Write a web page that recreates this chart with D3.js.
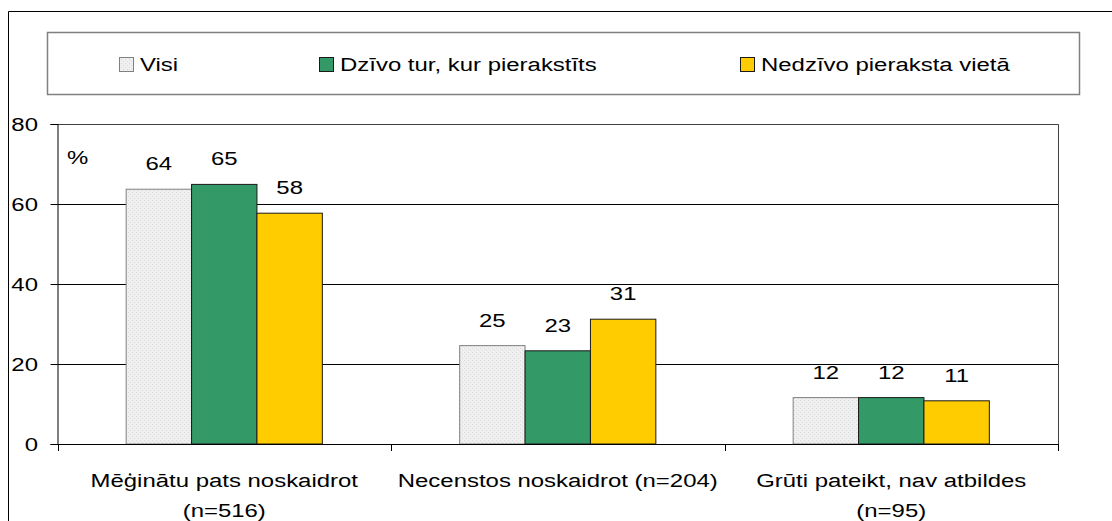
<!DOCTYPE html>
<html>
<head>
<meta charset="utf-8">
<script src="https://cdn.jsdelivr.net/npm/d3@7"></script>
<style>
  body { margin: 0; background: #fff; }
  text { font-family: "Liberation Sans", Arial, sans-serif; fill: #000; font-size: 19px; }
</style>
</head>
<body>
<div id="chart"></div>
<script>
// data
var categories = [["Mēģinātu pats noskaidrot", "(n=516)"], ["Necenstos noskaidrot (n=204)"], ["Grūti pateikt, nav atbildes", "(n=95)"]];
var seriesNames = ["Visi", "Dzīvo tur, kur pierakstīts", "Nedzīvo pieraksta vietā"];
var visi = [63.7, 24.6, 11.6];
var dzivo = [64.9, 23.3, 11.6];
var nedzivo = [57.7, 31.2, 10.8];
var yTicks = [0, 20, 40, 60, 80];

var colors = ["url(#dots)", "#339966", "#ffcc00"];
var strokes = ["#808080", "#1a1a1a", "#1a1a1a"];
var values = [visi, dzivo, nedzivo];

var svgWidth = 1112;
var svgHeight = 521;
// the original text is drawn wider than it is tall
var stretch = 1.26;

var svg = d3.select("#chart")
    .append("svg")
    .attr("width", svgWidth)
    .attr("height", svgHeight);

function wideText(sel, x, y) {
    return sel.attr("transform", function (d, i) {
        var xx = typeof x === "function" ? x(d, i) : x;
        var yy = typeof y === "function" ? y(d, i) : y;
        return "translate(" + xx + "," + yy + ") scale(" + stretch + ",1)";
    });
}

// fine texture for the light gray bars
var pat = svg.append("defs").append("pattern")
    .attr("id", "dots")
    .attr("width", 4).attr("height", 4)
    .attr("patternUnits", "userSpaceOnUse");
pat.append("rect").attr("width", 4).attr("height", 4).attr("fill", "#efefef");
pat.append("rect").attr("x", 0).attr("y", 0).attr("width", 1).attr("height", 1).attr("fill", "#dadada");
pat.append("rect").attr("x", 2).attr("y", 2).attr("width", 1).attr("height", 1).attr("fill", "#dadada");

// outer frame
svg.append("path")
    .attr("d", "M8.5," + svgHeight + "V11.5H" + svgWidth)
    .attr("fill", "none")
    .attr("stroke", "#000");

// scales
var plot = { left: 57.5, right: 1058, top: 124, bottom: 444 };

var x0 = d3.scaleBand()
    .domain(d3.range(categories.length))
    .range([plot.left, plot.right]);

var x1 = d3.scaleBand()
    .domain(d3.range(seriesNames.length))
    .range([0, x0.bandwidth()])
    .paddingOuter(1.05);

var y = d3.scaleLinear()
    .domain([0, 80])
    .range([plot.bottom, plot.top]);

// gridlines
svg.append("g").selectAll("line")
    .data(yTicks.filter(d => d > 0 && d < 80))
    .enter().append("line")
    .attr("x1", plot.left).attr("x2", plot.right)
    .attr("y1", d => Math.round(y(d)) + 0.5).attr("y2", d => Math.round(y(d)) + 0.5)
    .attr("stroke", "#000");

// plot area top/right border
svg.append("path")
    .attr("d", "M" + plot.left + "," + (plot.top + 0.5) + "H" + (plot.right + 0.5) + "V" + plot.bottom)
    .attr("fill", "none")
    .attr("stroke", "#404040");

// bars
values.forEach(function (vals, s) {
    svg.append("g").selectAll("rect")
        .data(vals)
        .enter().append("rect")
        .attr("x", (d, i) => x0(i) + x1(s))
        .attr("y", d => y(d))
        .attr("width", x1.bandwidth())
        .attr("height", d => y(0) - y(d))
        .attr("fill", colors[s])
        .attr("stroke", strokes[s])
        .attr("stroke-width", 1);

    var lbl = svg.append("g").selectAll("text")
        .data(vals)
        .enter().append("text")
        .attr("text-anchor", "middle")
        .text(d => Math.round(d));
    wideText(lbl, (d, i) => x0(i) + x1(s) + x1.bandwidth() / 2, d => y(d) - 19);
});

// y axis
var yAxis = d3.axisLeft(y).tickValues(yTicks).tickSize(7).tickFormat("");
var yg = svg.append("g")
    .attr("transform", "translate(" + plot.left + ",0)")
    .call(yAxis);
yg.select(".domain").attr("stroke", "#000");
yg.selectAll(".tick line").attr("stroke", "#000");

var yLabels = svg.append("g").selectAll("text")
    .data(yTicks)
    .enter().append("text")
    .attr("text-anchor", "end")
    .text(d => d);
wideText(yLabels, 38, d => y(d) + 7);

// x axis line and category ticks
svg.append("line")
    .attr("x1", plot.left).attr("x2", plot.right + 0.5)
    .attr("y1", plot.bottom + 0.5).attr("y2", plot.bottom + 0.5)
    .attr("stroke", "#000");
svg.append("g").selectAll("line")
    .data(d3.range(categories.length + 1))
    .enter().append("line")
    .attr("x1", d => Math.round(plot.left + d * x0.step()) + 0.5)
    .attr("x2", d => Math.round(plot.left + d * x0.step()) + 0.5)
    .attr("y1", plot.bottom).attr("y2", plot.bottom + 7)
    .attr("stroke", "#000");

// category labels
var catText = svg.append("g").selectAll("text")
    .data(categories)
    .enter().append("text")
    .attr("text-anchor", "middle");
wideText(catText, (d, i) => x0(i) + x0.bandwidth() / 2, 487);
catText.selectAll("tspan")
    .data(d => d)
    .enter().append("tspan")
    .attr("x", 0)
    .attr("y", (d, j) => j * 30)
    .text(d => d);

// "%" label
wideText(svg.append("text").text("%"), 67, 164);

// legend
svg.append("rect")
    .attr("x", 47.5).attr("y", 32.5)
    .attr("width", 1032).attr("height", 62)
    .attr("fill", "#fff")
    .attr("stroke", "#808080")
    .attr("stroke-width", 1.5);

var legendX = [119, 319, 740];
var legend = svg.append("g").selectAll("g")
    .data(seriesNames)
    .enter().append("g")
    .attr("transform", (d, i) => "translate(" + legendX[i] + ",57)");
legend.append("rect")
    .attr("x", 0.5).attr("y", 0.5)
    .attr("width", 14).attr("height", 14)
    .attr("fill", (d, i) => colors[i])
    .attr("stroke", (d, i) => i === 0 ? "#808080" : "#1a1a1a");
wideText(legend.append("text").text(d => d), 21, 14);
</script>
</body>
</html>
